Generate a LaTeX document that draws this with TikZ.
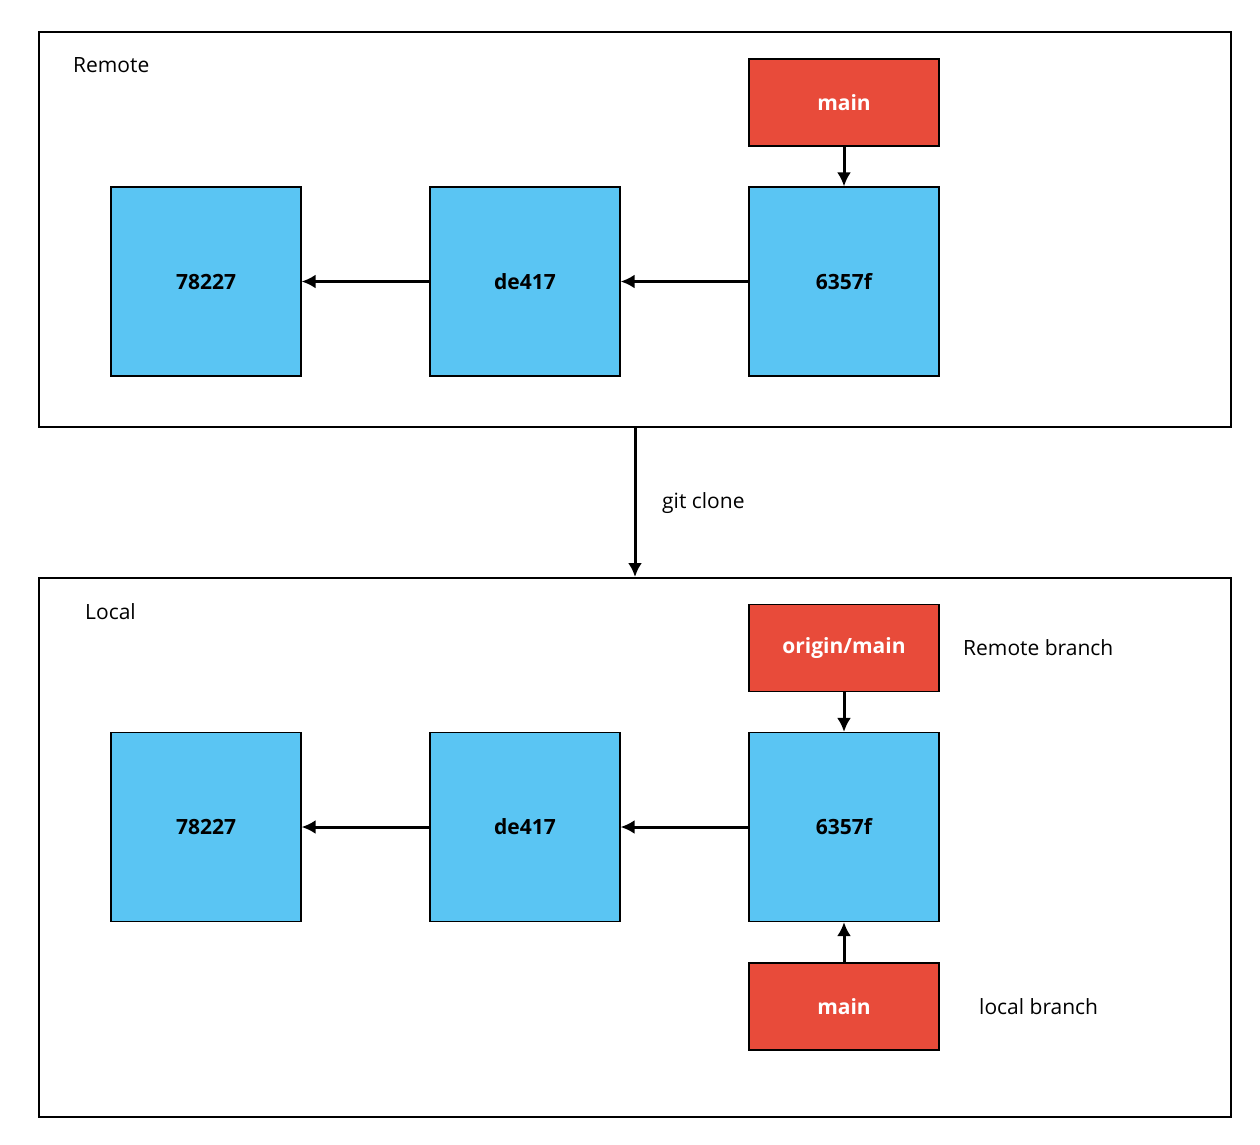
\documentclass[tikz,border=0pt]{standalone}
\usepackage{fontspec}
\setmainfont{Open Sans}
\usetikzlibrary{arrows.meta}
\definecolor{cblue}{HTML}{5AC5F3}
\definecolor{cred}{HTML}{E84B3A}
\begin{document}
\begin{tikzpicture}[x=1pt,y=-1pt,
  frame/.style={draw,line width=1.2pt},
  commit/.style={draw,line width=1.2pt,fill=cblue,minimum width=190pt,minimum height=189pt,font=\fontsize{21}{24}\selectfont\bfseries,inner sep=0},
  branch/.style={draw,line width=1.2pt,fill=cred,text=white,minimum width=190pt,minimum height=87pt,font=\fontsize{21}{24}\selectfont\bfseries,inner sep=0},
  lbl/.style={font=\fontsize{21}{24}\selectfont,anchor=west,inner sep=0},
  arr/.style={line width=3pt,-{Latex[length=14pt,width=14pt]}}]
\useasboundingbox (0,0) rectangle (1260,1144);
\node[frame,minimum width=1192pt,minimum height=395pt,inner sep=0] (remote) at (635,229.5) {};
\node[frame,minimum width=1192pt,minimum height=539pt,inner sep=0] (local) at (635,847.5) {};
\node[lbl] (rl) at (73,65) {Remote};
\node[lbl] (ll) at (85,612) {Local};
\node[commit] (r1) at (206,281.5) {78227};
\node[commit] (r2) at (525,281.5) {de417};
\node[commit] (r3) at (844,281.5) {6357f};
\node[branch] (rm) at (844,102.5) {main};
\draw[arr] (r3) -- (r2);
\draw[arr] (r2) -- (r1);
\draw[arr] (rm) -- (r3);
\coordinate (ct) at (635,427);
\coordinate (cb) at (635,577);
\draw[arr] (ct) -- (cb);
\node[lbl] (gc) at (662,503) {git clone};
\node[commit] (l1) at (206,827) {78227};
\node[commit] (l2) at (525,827) {de417};
\node[commit] (l3) at (844,827) {6357f};
\node[branch] (om) at (844,648) {origin/main};
\node[branch] (lm) at (844,1006.5) {main};
\draw[arr] (l3) -- (l2);
\draw[arr] (l2) -- (l1);
\draw[arr] (om) -- (l3);
\draw[arr] (lm) -- (l3);
\node[lbl] (rb) at (963,648) {Remote branch};
\node[lbl] (lb) at (979,1007) {local branch};
\end{tikzpicture}
\end{document}
